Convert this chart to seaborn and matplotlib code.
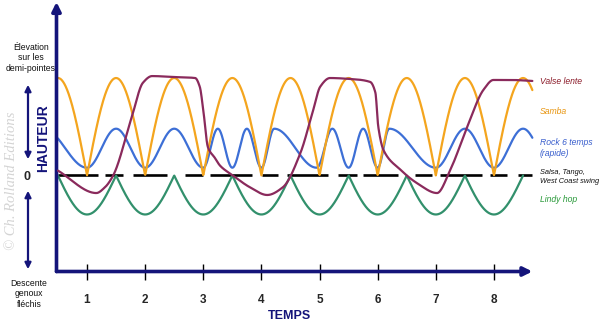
import numpy as np
import matplotlib
matplotlib.use("Agg")
import matplotlib.pyplot as plt
import seaborn as sns

# ---------------- data ----------------
beats = [1, 2, 3, 4, 5, 6, 7, 8]
beat_labels = ["1", "2", "3", "4", "5", "6", "7", "8"]
t_end = 8.66

# Valse lente (key points of the curve)
valse_t = [0.5, 1.16, 1.31, 1.45, 1.77, 1.96, 2.12, 2.5, 2.86, 2.94, 3.0, 3.08, 3.2, 3.29,
           3.51, 3.8, 4.1, 4.37, 4.67, 4.89, 5.01, 5.18, 5.53, 5.87, 5.96, 6.01, 6.1, 6.39,
           6.68, 7.02, 7.25, 7.54, 7.82, 7.99, 8.3, 8.66]
valse_v = [0.05, -0.18, -0.12, 0.0, 0.6, 0.95, 1.02, 1.01, 1.0, 0.91, 0.67, 0.29, 0.18, 0.1,
           0.0, -0.12, -0.2, -0.12, 0.23, 0.67, 0.91, 1.0, 0.99, 0.96, 0.85, 0.5, 0.26, 0.06,
           -0.08, -0.18, 0.06, 0.5, 0.88, 0.98, 0.98, 0.97]

# Samba (extremes)
samba_t = [0.5, 1, 1.5, 2, 2.5, 3, 3.5, 4, 4.5, 5, 5.5, 6, 6.5, 7, 7.5, 8, 8.5, 9]
samba_v = [1.0, 0, 1.0, 0, 1.0, 0, 1.0, 0, 1.0, 0, 1.0, 0, 1.0, 0, 1.0, 0, 1.0, 0]

# Rock 6 temps (extremes)
rock_t = [0.25, 1.0, 1.5, 2.0, 2.5, 3.0, 3.25, 3.5, 3.75, 4.0, 4.22, 4.95, 5.22, 5.5,
          5.75, 6.0, 6.2, 7.0, 7.5, 8.0, 8.5, 9.0]
rock_v = [0.48, 0.08, 0.48, 0.08, 0.48, 0.08, 0.48, 0.08, 0.48, 0.08, 0.48, 0.08, 0.48, 0.08,
          0.48, 0.08, 0.48, 0.08, 0.48, 0.08, 0.48, 0.08]

# Lindy hop (extremes)
lindy_t = [0.5, 1, 1.5, 2, 2.5, 3, 3.5, 4, 4.5, 5, 5.5, 6, 6.5, 7, 7.5, 8, 8.5]
lindy_v = [0, -0.4, 0, -0.4, 0, -0.4, 0, -0.4, 0, -0.4, 0, -0.4, 0, -0.4, 0, -0.4, 0]

# Salsa, Tango, West Coast swing : dashes on the zero line
dash_start = [0.5, 1.31, 1.79, 2.69, 3.12, 4.01, 4.44, 5.32, 5.75, 6.65, 7.08, 7.94, 8.42]
dash_end = [1.19, 1.62, 2.38, 3.0, 3.84, 4.29, 5.15, 5.65, 6.35, 6.94, 7.80, 8.23, 8.66]

labels = ["Valse lente", "Samba", "Rock 6 temps\n(rapide)",
          "Salsa, Tango,\nWest Coast swing", "Lindy hop"]


# ---------------- curve rendering helpers ----------------
def pchip(x, y, xn):
    x = np.asarray(x, float); y = np.asarray(y, float)
    h = np.diff(x); d = np.diff(y) / h
    n = len(x); m = np.zeros(n)
    for k in range(1, n - 1):
        if d[k - 1] * d[k] > 0:
            w1 = 2 * h[k] + h[k - 1]; w2 = h[k] + 2 * h[k - 1]
            m[k] = (w1 + w2) / (w1 / d[k - 1] + w2 / d[k])
    m[0] = d[0]; m[-1] = d[-1]
    idx = np.clip(np.searchsorted(x, xn) - 1, 0, n - 2)
    s = (xn - x[idx]) / h[idx]
    h00 = 2 * s**3 - 3 * s**2 + 1; h10 = s**3 - 2 * s**2 + s
    h01 = -2 * s**3 + 3 * s**2; h11 = s**3 - s**2
    return h00 * y[idx] + h10 * h[idx] * m[idx] + h01 * y[idx + 1] + h11 * h[idx] * m[idx + 1]


def wave(tk, vk, tt, cusp=None):
    tk = np.asarray(tk, float); vk = np.asarray(vk, float)
    if cusp == "low":
        sharp = vk == vk.min()
    elif cusp == "high":
        sharp = vk == vk.max()
    else:
        sharp = np.zeros(len(vk), bool)
    idx = np.clip(np.searchsorted(tk, tt) - 1, 0, len(tk) - 2)
    s = (tt - tk[idx]) / (tk[idx + 1] - tk[idx])
    sa = sharp[idx]; sb = sharp[idx + 1]
    f = np.where(~sa & ~sb, (1 - np.cos(np.pi * s)) / 2,
        np.where(sa & ~sb, np.sin(np.pi * s / 2),
        np.where(~sa & sb, 1 - np.cos(np.pi * s / 2), s)))
    return vk[idx] + (vk[idx + 1] - vk[idx]) * f


# ---------------- figure ----------------
sns.set_style("white")
plt.rcParams["font.family"] = ["Liberation Sans", "DejaVu Sans"]

navy = "#14147a"
c_valse = "#8a2a5c"
c_samba = "#f4a51e"
c_rock = "#3d6fd6"
c_lindy = "#32906c"

fig = plt.figure(figsize=(6, 3.24), dpi=100)
W, H = 600, 324
left_px, right_px, top_px, bot_px = 56.5, 540, 2, 271.5
ax = fig.add_axes([left_px / W, 1 - bot_px / H, (right_px - left_px) / W, (bot_px - top_px) / H])
ppt = 58.14
x0 = 1 - (87 - left_px) / ppt
ax.set_xlim(x0, x0 + (right_px - left_px) / ppt)
ax.set_ylim(-0.985, 1.78)
for sp in ax.spines.values():
    sp.set_visible(False)
ax.set_facecolor("none")

# dashed zero line (Salsa...)
ax.hlines(np.zeros(len(dash_start)), dash_start, dash_end, color="black", lw=1.9, zorder=2)

tt = np.linspace(0.5, t_end, 1500)
tl = np.linspace(lindy_t[0], lindy_t[-1], 1500)
sns.lineplot(x=tl, y=wave(lindy_t, lindy_v, tl, cusp="high"), ax=ax, color=c_lindy, lw=1.6, zorder=3)
sns.lineplot(x=tt, y=wave(rock_t, rock_v, tt), ax=ax, color=c_rock, lw=1.6, zorder=3)
sns.lineplot(x=tt, y=wave(samba_t, samba_v, tt, cusp="low"), ax=ax, color=c_samba, lw=1.6, zorder=3)
sns.lineplot(x=tt, y=pchip(valse_t, valse_v, tt), ax=ax, color=c_valse, lw=1.6, zorder=4)

# axes with arrows
ax.annotate("", xy=(0, 1.0), xytext=(0, 0), xycoords="axes fraction",
            arrowprops=dict(arrowstyle="-|>", color=navy, lw=2.6, mutation_scale=13,
                            shrinkA=0, shrinkB=0), annotation_clip=False)
ax.annotate("", xy=(t_end, 0), xytext=(x0, 0), xycoords=("data", "axes fraction"),
            textcoords=("data", "axes fraction"),
            arrowprops=dict(arrowstyle="-|>", color=navy, lw=2.6, mutation_scale=13,
                            shrinkA=0, shrinkB=0), annotation_clip=False)

ax.set_xticks(beats)
ax.set_xticklabels(beat_labels, fontsize=8.5, fontweight="bold")
ax.set_yticks([])
ax.tick_params(axis="x", bottom=True, direction="inout", length=11, width=1,
               color="black", pad=11)
ax.set_xlabel("")
ax.set_ylabel("")

fig.text(289 / W, 1 - 316 / H, "TEMPS", ha="center", va="center", fontsize=9,
         fontweight="bold", color=navy)
fig.text(43 / W, 1 - 138 / H, "HAUTEUR", ha="center", va="center", rotation=90,
         fontsize=10, fontweight="bold", color=navy)

fig.text(31 / W, 1 - 58 / H, "Élevation\nsur les\ndemi-pointes", ha="center", va="center",
         fontsize=6.2, linespacing=1.25, color="#111111")
fig.text(29 / W, 1 - 294 / H, "Descente\ngenoux\nfléchis", ha="center", va="center",
         fontsize=6.2, linespacing=1.25, color="#111111")
fig.text(27 / W, 1 - 177 / H, "0", ha="center", va="center", fontsize=9, fontweight="bold")

for (ya, yb) in [(82, 162), (188, 272)]:
    fig.add_artist(matplotlib.patches.FancyArrowPatch(
        (28 / W, 1 - ya / H), (28 / W, 1 - yb / H), transform=fig.transFigure,
        arrowstyle="<|-|>", mutation_scale=9, color=navy, lw=1.6))

fig.text(12 / W, 1 - 181 / H, "© Ch. Rolland Editions", ha="center", va="center",
         rotation=90, fontsize=10.5, style="italic", family="Liberation Serif", color="#d4d4d4")

leg_y = [82, 111, 148, 177, 199]
leg_c = ["#8b1c2a", "#e8950f", "#3a5fcd", "#111111", "#2a9a3a"]
leg_s = [6.2, 6.2, 6.2, 5.3, 6.2]
for lab, y, c, s in zip(labels, leg_y, leg_c, leg_s):
    fig.text(540 / W, 1 - y / H, lab, ha="left", va="center", fontsize=s, style="italic",
             color=c, linespacing=1.35)

fig.savefig("out.png", dpi=100)
